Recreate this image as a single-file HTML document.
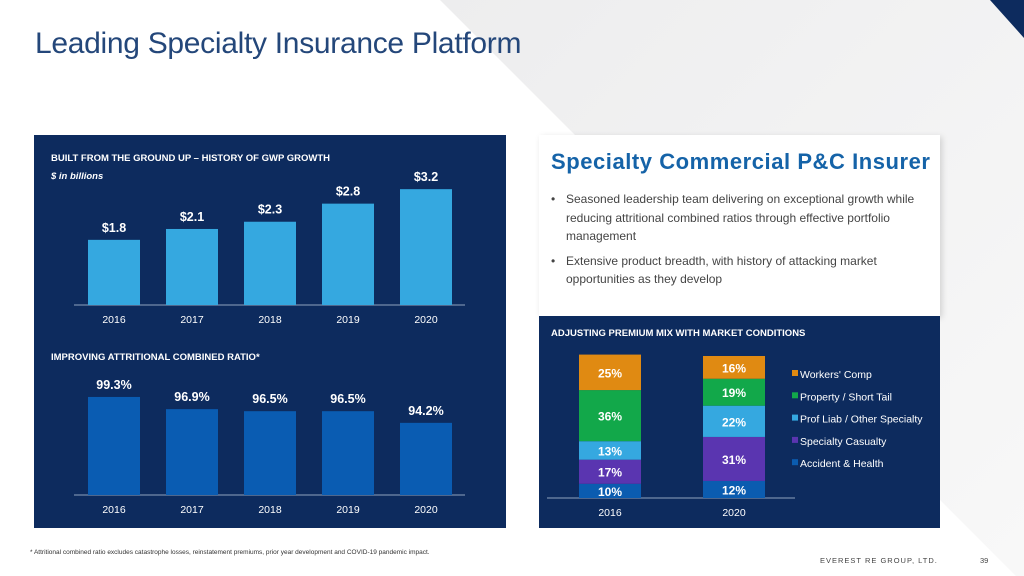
<!DOCTYPE html>
<html><head><meta charset="utf-8"><style>
body{margin:0;width:1024px;height:576px;overflow:hidden;font-family:"Liberation Sans",sans-serif;}
#page{position:relative;width:1024px;height:576px;background:#ffffff;}
.abs{position:absolute;}
</style></head><body>
<div id="page">
<svg class="abs" style="left:0;top:0" width="1024" height="576">
<defs><linearGradient id="bg" x1="0" y1="0" x2="1" y2="1"><stop offset="0" stop-color="#ededee"/><stop offset="1" stop-color="#f8f8f8"/></linearGradient></defs>
<polygon points="440,0 1024,0 1024,576 1016,576" fill="url(#bg)"/>
<polygon points="990,0 1024,0 1024,38" fill="#0d2b5e"/>
</svg>
<div class="abs" style="left:35px;top:27px;font-size:30px;color:#24477a;letter-spacing:-0.3px;">Leading Specialty Insurance Platform</div>

<div class="abs" style="left:34px;top:135px;width:472px;height:393px;background:#0d2b5e;"></div>
<div class="abs" style="left:51px;top:153px;font-size:9.5px;font-weight:bold;color:#fff;">BUILT FROM THE GROUND UP – HISTORY OF GWP GROWTH</div>
<div class="abs" style="left:51px;top:171px;font-size:9.5px;font-weight:bold;font-style:italic;color:#fff;">$ in billions</div>
<div class="abs" style="left:51px;top:352px;font-size:9.5px;font-weight:bold;color:#fff;">IMPROVING ATTRITIONAL COMBINED RATIO*</div>

<div class="abs" style="left:539px;top:135px;width:401px;height:181px;background:#fff;box-shadow:2px 2px 6px rgba(0,0,0,0.15);"></div>
<div class="abs" style="left:551px;top:149px;font-size:22px;font-weight:bold;color:#1563a8;letter-spacing:0.55px;">Specialty Commercial P&amp;C Insurer</div>
<div class="abs" style="left:551px;top:190px;width:380px;font-size:12px;color:#444;line-height:18.5px;">
<div style="display:flex"><span style="width:15px;flex:none">•</span><span>Seasoned leadership team delivering on exceptional growth while reducing attritional combined ratios through effective portfolio management</span></div>
<div style="display:flex;margin-top:6px"><span style="width:15px;flex:none">•</span><span>Extensive product breadth, with history of attacking market opportunities as they develop</span></div>
</div>
<div class="abs" style="left:539px;top:316px;width:401px;height:212px;background:#0d2b5e;"></div>
<div class="abs" style="left:551px;top:328px;font-size:9.5px;font-weight:bold;color:#fff;">ADJUSTING PREMIUM MIX WITH MARKET CONDITIONS</div>

<div class="abs" style="left:30px;top:549px;font-size:6.5px;color:#333;">* Attritional combined ratio excludes catastrophe losses, reinstatement premiums, prior year development and COVID-19 pandemic impact.</div>
<div class="abs" style="left:820px;top:556px;font-size:7.5px;color:#444;letter-spacing:1px;">EVEREST RE GROUP, LTD.</div>
<div class="abs" style="left:980px;top:556px;font-size:7.5px;color:#444;">39</div>

<svg id="charts" class="abs" style="left:0;top:0" width="1024" height="576"></svg>
</div>
<script>
const years = ["2016","2017","2018","2019","2020"];
const gwpValues = [1.8, 2.1, 2.3, 2.8, 3.2];
const gwpLabels = ["$1.8","$2.1","$2.3","$2.8","$3.2"];
const ratioValues = [99.3, 96.9, 96.5, 96.5, 94.2];
const ratioLabels = ["99.3%","96.9%","96.5%","96.5%","94.2%"];
const mixYears = ["2016","2020"];
const mixSeries = ["Accident & Health","Specialty Casualty","Prof Liab / Other Specialty","Property / Short Tail","Workers' Comp"];
const mix2016 = [10, 17, 13, 36, 25];
const mix2020 = [12, 31, 22, 19, 16];

const NS="http://www.w3.org/2000/svg";
const svg=document.getElementById('charts');
function mk(tag,attrs,name){const e=document.createElementNS(NS,tag);for(const k in attrs)e.setAttribute(k,attrs[k]);


svg.appendChild(e);return e;}
function txt(x,y,s,size,name,extra){const t=mk('text',Object.assign({x:x,y:y,'font-size':size,fill:'#fff','text-anchor':'middle','font-family':'Liberation Sans, sans-serif'},extra||{}),name);t.textContent=s;return t;}

const xC = i => 114 + i*78;
const barW = 52;
const gBase=305, yG = v => gBase - v*36.2;
mk('line',{x1:74,x2:465,y1:gBase,y2:gBase,stroke:'#8fa3bf','stroke-width':1},'gwp-x-axis');
gwpValues.forEach((v,i)=>{
  mk('rect',{x:xC(i)-barW/2,y:yG(v),width:barW,height:gBase-yG(v),fill:'#35a8e0'},'gwp-bar-'+years[i]);
  txt(xC(i),yG(v)-8,gwpLabels[i],12.5,'gwp-value-'+years[i],{'font-weight':'bold'});
  txt(xC(i),323,years[i],10.5,'gwp-year-'+years[i]);
});
const rBase=495, yR = v => rBase - (v-80)*5.08;
mk('line',{x1:74,x2:465,y1:rBase,y2:rBase,stroke:'#8fa3bf','stroke-width':1},'ratio-x-axis');
ratioValues.forEach((v,i)=>{
  mk('rect',{x:xC(i)-barW/2,y:yR(v),width:barW,height:rBase-yR(v),fill:'#0a5cb2'},'ratio-bar-'+years[i]);
  txt(xC(i),yR(v)-8,ratioLabels[i],12.5,'ratio-value-'+years[i],{'font-weight':'bold'});
  txt(xC(i),513,years[i],10.5,'ratio-year-'+years[i]);
});
const colors=['#0b5cb0','#5a35b0','#35a8e0','#12a84a','#e08a12'];
const mBase=498, pxPer=1.42, mX=[610,734], mW=62;
mk('line',{x1:547,x2:795,y1:mBase,y2:mBase,stroke:'#8fa3bf','stroke-width':1},'mix-x-axis');
[mix2016,mix2020].forEach((arr,j)=>{
  let cum=0;
  arr.forEach((v,k)=>{
    const y0=mBase-cum*pxPer, h=v*pxPer;
    mk('rect',{x:mX[j]-mW/2,y:y0-h,width:mW,height:h,fill:colors[k]},'mix-bar-'+mixYears[j]+'-'+k);
    txt(mX[j],y0-h/2+5,v+'%',12,'mix-label-'+mixYears[j]+'-'+k,{'font-weight':'bold'});
    cum+=v;
  });
  txt(mX[j],516,mixYears[j],10.5,'mix-year-'+mixYears[j]);
});
for(let k=mixSeries.length-1,r=0;k>=0;k--,r++){
  const y=375+r*22.3;
  mk('rect',{x:792,y:y-5,width:6,height:6,fill:colors[k]},'legend-swatch-'+k);
  txt(800,y+3,mixSeries[k],10.5,'legend-entry-'+k,{'text-anchor':'start'});
}
</script>
</body></html>
